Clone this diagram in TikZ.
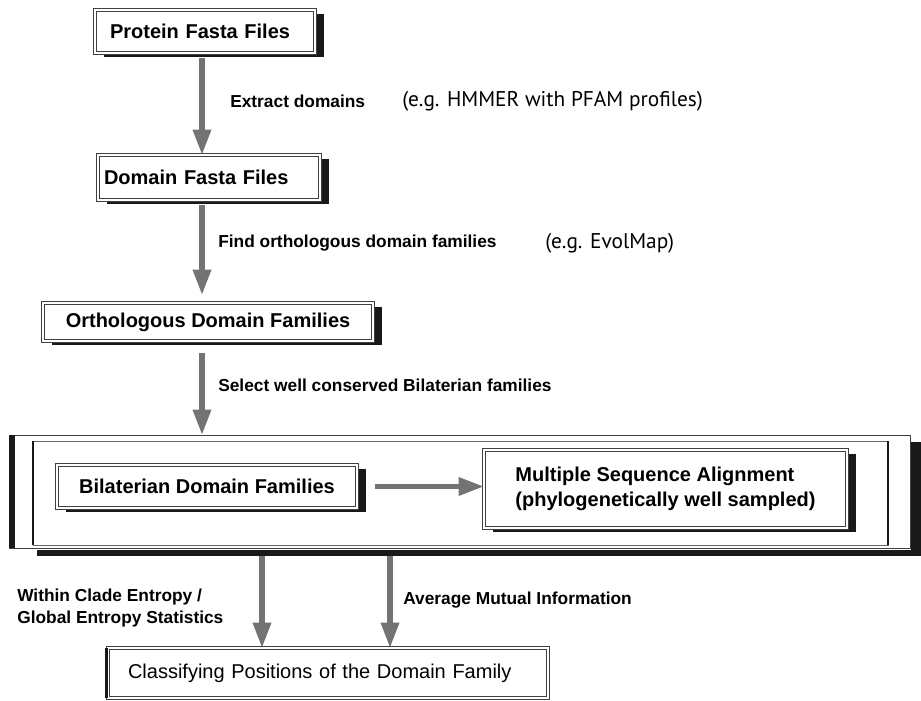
\documentclass[tikz,border=0pt]{standalone}
\usepackage{fontspec}
\setmainfont{Liberation Sans}
\newfontfamily\egfont{PT Sans}
\usetikzlibrary{arrows.meta,shadows,positioning}

\tikzset{
  stepbox/.style={draw=black!75, line width=0.5pt, double=white, double distance=1.4pt,
    fill=white, drop shadow={shadow xshift=7pt, shadow yshift=-3pt, fill=black!90, opacity=1},
    font=\fontsize{15}{18.75}\selectfont\bfseries, align=left, inner ysep=0pt,
    outer sep=0pt, anchor=north west},
  flow/.style={draw=black!55, line width=4pt, -{Triangle[length=19pt,width=13pt]}},
  steplabel/.style={font=\fontsize{13}{16.5}\selectfont\bfseries, anchor=west,
    inner sep=0pt, align=left},
  eglabel/.style={font=\egfont\fontsize{16}{19}\selectfont, anchor=west, inner sep=0pt},
}

\begin{document}
\begin{tikzpicture}[x=0.75pt, y=-0.75pt]
  \useasboundingbox (0,0) rectangle (921,700);
  \coordinate (xa) at (202,0);

  %——————————————————————————————————————————————
  % Upper chain of boxes
  %——————————————————————————————————————————————
  \node[stepbox, inner xsep=11.25pt, text width=142.5pt, minimum height=32.25pt]
    (prot) at (95,10) {Protein Fasta Files};
  \node[stepbox, inner xsep=4.5pt, text width=157.5pt, minimum height=33.75pt]
    (dom) at (98,155) {Domain Fasta Files};
  \node[stepbox, minimum width=247.5pt, minimum height=28.5pt]
    (orth) at (43,303) {Orthologous Domain Families};

  %——————————————————————————————————————————————
  % Large frame round the Bilaterian step
  %——————————————————————————————————————————————
  \node[draw=black!75, line width=0.6pt, minimum width=675.75pt, minimum height=84.75pt,
    inner sep=0pt, outer sep=0pt, anchor=north west] (clade) at (9,435) {};
  % black bar on the left, shadow on the right and below
  \fill[black!90] (clade.north west) rectangle ([xshift=4.5pt]clade.south west);
  \fill[black!90] ([xshift=0.75pt,yshift=-5.25pt]clade.north east)
    rectangle ([xshift=8.25pt,yshift=-6pt]clade.south east);
  \fill[black!90] ([xshift=21pt,yshift=-1.5pt]clade.south west)
    rectangle ([xshift=8.25pt,yshift=-6pt]clade.south east);
  % inner frame
  \node[draw=black!60, line width=0.5pt, minimum width=641.25pt, minimum height=78pt,
    inner sep=0pt, outer sep=0pt, anchor=north west] (cladein) at (33,441) {};
  \draw[black!90, line width=2pt] (cladein.north west) -- (cladein.south west);
  \draw[black!90, line width=2pt] (cladein.north east) -- (cladein.south east);

  \node[stepbox, minimum width=225pt, minimum height=32.25pt]
    (bil) at (57,465) {Bilaterian Domain Families};
  \node[stepbox, minimum width=272.25pt, minimum height=58.5pt]
    (msa) at (484,450) {Multiple Sequence Alignment\\(phylogenetically well sampled)};

  %——————————————————————————————————————————————
  % Result box
  %——————————————————————————————————————————————
  \node[draw=black!75, line width=0.5pt, double=white, double distance=1.4pt, fill=white,
    font=\fontsize{15}{18}\selectfont, align=left, inner xsep=15pt, text width=300pt,
    minimum height=37.5pt, inner ysep=0pt, outer sep=0pt, anchor=north west]
    (cls) at (108,648) {Classifying Positions of the Domain Family};
  \draw[black!90, line width=2.5pt] ([xshift=-1.2pt]cls.north west) -- ([xshift=-1.2pt]cls.south west);

  %——————————————————————————————————————————————
  % Arrows
  %——————————————————————————————————————————————
  \draw[flow] ([yshift=-4pt]prot.south -| xa) -- (dom.north -| xa);
  \draw[flow] ([yshift=-4pt]dom.south -| xa) -- ([yshift=6pt]orth.north -| xa);
  \draw[flow] ([yshift=-9pt]orth.south -| xa) -- (clade.north -| xa);
  \draw[flow] ([xshift=13.5pt]bil.east) -- (msa.west |- bil.east);
  \coordinate (xb) at (262,0);
  \coordinate (xc) at (390,0);
  \draw[flow] ([yshift=-6pt]clade.south -| xb) -- (cls.north -| xb);
  \draw[flow] ([yshift=-6pt]clade.south -| xc) -- (cls.north -| xc);

  %——————————————————————————————————————————————
  % Labels of the steps
  %——————————————————————————————————————————————
  \node[steplabel] (lext) at (230,101) {Extract domains};
  \node[eglabel] (eghmm) at (402,101) {(e.g. HMMER with PFAM profiles)};
  \node[steplabel] (lfind) at (218,243) {Find orthologous domain families};
  \node[eglabel] (egevo) at (545,243) {(e.g. EvolMap)};
  \node[steplabel] (lsel) at (218,385) {Select well conserved Bilaterian families};
  \node[steplabel, anchor=north west] (lent) at (17,589)
    {Within Clade Entropy /\\Global Entropy Statistics};
  \node[steplabel] (lami) at (403,600) {Average Mutual Information};
\end{tikzpicture}
\end{document}
